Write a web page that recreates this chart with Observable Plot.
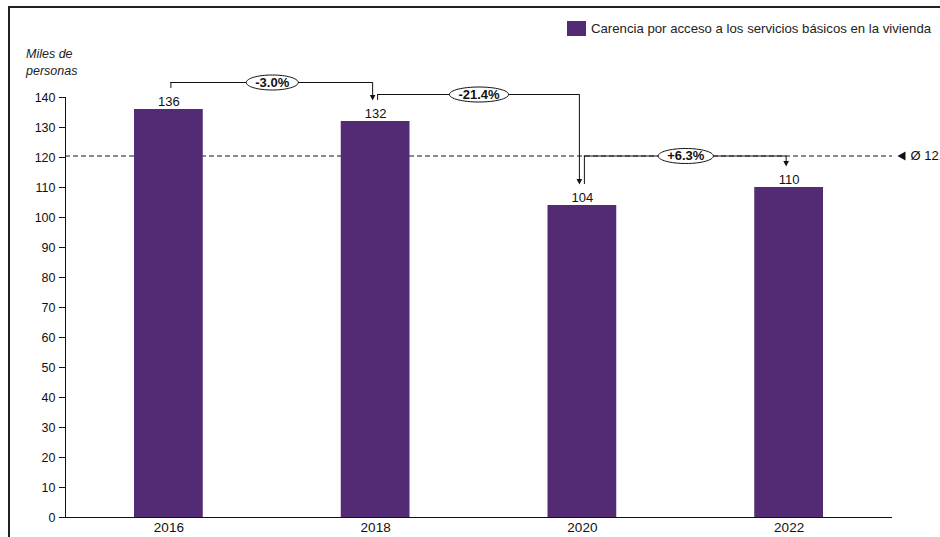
<!DOCTYPE html>
<html>
<head>
<meta charset="utf-8">
<script src="https://cdn.jsdelivr.net/npm/d3@7"></script>
<script src="https://cdn.jsdelivr.net/npm/@observablehq/plot@0.6"></script>
<style>
  body { margin: 0; background: #fff; font-family: "Liberation Sans", Arial, sans-serif; }
  #wrap { position: relative; width: 940px; height: 537px; overflow: hidden; }
  #chart { position: absolute; left: 0; top: 0; }
  #frame { position: absolute; left: 8px; top: 6px; right: -5px; bottom: -5px;
           border-top: 2px solid #222; border-left: 2px solid #222; pointer-events: none; }
  #legend { position: absolute; left: 567px; top: 21px; display: flex; align-items: center;
            font-size: 13.2px; color: #222; white-space: nowrap; }
  #legend .sw { display: inline-block; width: 19px; height: 15px; margin-right: 5px; }
  #unit { position: absolute; left: 26px; top: 46px; font-size: 12.5px; font-style: italic;
          line-height: 17px; color: #222; }
</style>
</head>
<body>
<div id="wrap">
  <div id="chart"></div>
  <div id="frame"></div>
  <div id="unit"></div>
  <div id="legend"><span class="sw"></span><span class="lt"></span></div>
</div>
<script>
// ---- data ----
const years = [2016, 2018, 2020, 2022];
const values = [136, 132, 104, 110];
const changeLabels = ["-3.0%", "-21.4%", "+6.3%"];
const seriesName = "Carencia por acceso a los servicios básicos en la vivienda";
const unitLines = ["Miles de", "personas"];
const avgLabel = "Ø 121";

// ---- styles ----
const barColor = "#532B75";
const fontFamily = "'Liberation Sans', Arial, sans-serif";

document.querySelector("#legend .sw").style.background = barColor;
document.querySelector("#legend .lt").textContent = seriesName;
document.getElementById("unit").innerHTML = unitLines.join("<br>");

const rows = years.map((year, i) => ({year, value: values[i]}));
const mean = d3.mean(values);
// connector levels (annotation layout)
const levels = [145, 141, mean];
const changes = changeLabels.map((label, i) => ({
  a: years[i], b: years[i + 1], va: values[i], vb: values[i + 1], label, level: levels[i]
}));

// measure label widths for ovals
const cctx = document.createElement("canvas").getContext("2d");
cctx.font = `bold 13px ${fontFamily}`;

function ellipse(w, h) {
  const rx = w / 2, ry = h / 2, k = 0.5523;
  return {
    draw(ctx) {
      ctx.moveTo(rx, 0);
      ctx.bezierCurveTo(rx, k * ry, k * rx, ry, 0, ry);
      ctx.bezierCurveTo(-k * rx, ry, -rx, k * ry, -rx, 0);
      ctx.bezierCurveTo(-rx, -k * ry, -k * rx, -ry, 0, -ry);
      ctx.bezierCurveTo(k * rx, -ry, rx, -k * ry, rx, 0);
      ctx.closePath();
    }
  };
}
const downArrow = { draw(ctx) { ctx.moveTo(-2.8, -5.5); ctx.lineTo(2.8, -5.5); ctx.lineTo(0, 0); ctx.closePath(); } };
const leftTri = { draw(ctx) { ctx.moveTo(-4, 0); ctx.lineTo(4, -4.5); ctx.lineTo(4, 4.5); ctx.closePath(); } };

const lineColor = "#111";
const startGap = 7, endGap = 7; // data units above the bar labels

const chart = Plot.plot({
  width: 940,
  height: 537,
  marginLeft: 65,
  marginRight: 48,
  marginTop: 97,
  marginBottom: 20,
  style: { fontFamily, fontSize: "12.5px", color: "#111", background: "transparent" },
  x: { type: "linear", domain: [years[0] - 1, years[years.length - 1] + 1], ticks: 4,
       tickFormat: "d", tickSize: 0, tickPadding: 5, label: null },
  y: { domain: [0, 140], ticks: 14, tickSize: 6, tickPadding: 4, label: null },
  marks: [
    Plot.ruleY([mean], { stroke: "#1a1a1a", strokeDasharray: "5,3", strokeWidth: 1 }),
    Plot.rectY(rows, { x1: d => d.year - 1, x2: d => d.year + 1, y: "value", fill: barColor,
                       insetLeft: 69, insetRight: 69 }),
    Plot.ruleY([0], { stroke: "#111" }),
    Plot.ruleX([years[0] - 1], { y1: 0, y2: 140, stroke: "#111" }),
    Plot.text(rows, { x: "year", y: "value", text: d => String(d.value), dy: -4,
                      lineAnchor: "bottom", fontSize: 13 }),
    // connectors
    Plot.ruleX(changes, { x: "a", y1: d => d.va + startGap, y2: "level", dx: 2, stroke: lineColor }),
    Plot.ruleY(changes, { y: "level", x1: "a", x2: "b", insetLeft: 2, insetRight: 3, stroke: lineColor }),
    Plot.ruleX(changes, { x: "b", y1: "level", y2: d => d.vb + endGap + 1.5, dx: -3, stroke: lineColor }),
    Plot.dot(changes, { x: "b", y: d => d.vb + endGap, dx: -3, symbol: downArrow, fill: lineColor, stroke: null }),
    ...changes.map(d => Plot.dot([d], {
      x: c => (c.a + c.b) / 2, y: "level",
      symbol: ellipse(cctx.measureText(d.label).width + 18, 15),
      fill: "white", stroke: "#111", strokeWidth: 1
    })),
    Plot.text(changes, { x: d => (d.a + d.b) / 2, y: "level", text: "label",
                         fontWeight: "bold", fontSize: 13 }),
    // average marker
    Plot.dot([mean], { x: () => years[years.length - 1] + 1, y: d => d, dx: 9,
                       symbol: leftTri, fill: "#111", stroke: null }),
    Plot.text([avgLabel], { x: () => years[years.length - 1] + 1, y: () => mean, dx: 18,
                            text: d => d, textAnchor: "start", fontSize: 13 })
  ]
});
chart.querySelectorAll('g[aria-label^="x-axis"] text').forEach(t => t.setAttribute("font-size", "13.5"));
document.getElementById("chart").append(chart);
</script>
</body>
</html>
